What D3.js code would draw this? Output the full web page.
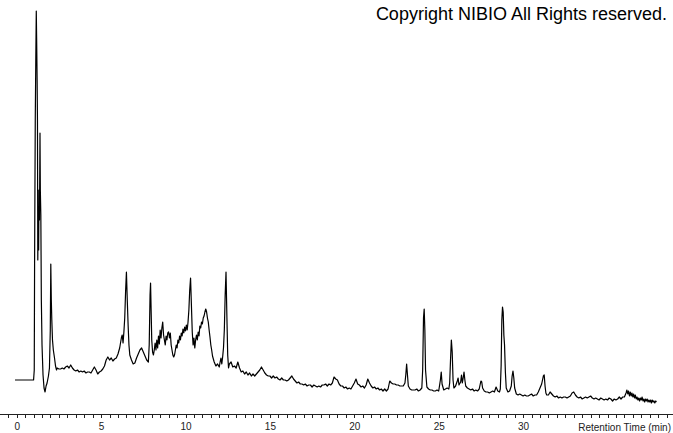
<!DOCTYPE html>
<html>
<head>
<meta charset="utf-8">
<script src="https://cdn.jsdelivr.net/npm/d3@7"></script>
<style>
  html, body { margin: 0; padding: 0; background: #fff; }
  svg { display: block; }
</style>
</head>
<body>
<svg id="chart" width="673" height="433"></svg>
<script>
// ---- data: [retention time (min), detector signal] ----
const traceSolventFront = [
  [-0.10,20],[1.00,20],[1.04,30],[1.06,138],[1.10,280],[1.13,338],[1.16,389],[1.18,363],[1.21,320],
  [1.23,280],[1.25,140],[1.27,185],[1.30,150],[1.32,210],[1.35,180],[1.38,267],[1.40,210],[1.43,185],
  [1.46,100],[1.50,55],[1.56,25],[1.62,12],[1.68,8],[1.74,14],[1.80,17],[1.88,24],[1.94,32],[1.99,70],
  [2.02,136],[2.05,100],[2.08,80],[2.12,60],[2.17,50],[2.24,42],[2.30,34],[2.36,30]
];
const traceEarly = [
  [2.4,32],[2.5,31],[2.6,31],[2.7,32],[2.8,31],[2.9,33],[3.0,34],[3.1,32],[3.2,35],[3.3,32],[3.4,30],
  [3.5,29],[3.6,30],[3.7,28],[3.8,29],[3.9,28],[4.0,29],[4.1,27],[4.2,28],[4.3,28],[4.4,27],[4.5,30],
  [4.6,33],[4.7,30],[4.8,26],[4.9,28],[5.0,29],[5.1,31],[5.2,34],[5.3,40],[5.4,43],[5.5,40],[5.6,42],
  [5.7,39],[5.8,41],[5.9,42],[6.0,46],[6.1,52],[6.2,62],[6.25,65],[6.3,57],[6.35,68],[6.4,82],[6.45,108],
  [6.5,128],[6.55,100],[6.6,75],[6.65,55],[6.7,45],[6.8,40],[6.9,36],[7.0,37],[7.1,42],[7.2,46],[7.3,50],
  [7.4,52],[7.5,48],[7.6,44],[7.7,40],[7.8,38],[7.85,55],[7.9,105],[7.93,117],[7.97,85],[8.0,60],[8.05,48],
  [8.1,45],[8.15,50],[8.2,57],[8.25,50],[8.3,60],[8.35,52],[8.4,64],[8.45,56],[8.5,70],[8.55,62],[8.6,72],
  [8.65,78],[8.7,65],[8.75,60],[8.8,55],[8.85,64],[8.9,60],[8.95,67],[9.0,68],[9.05,62],[9.1,67],[9.15,55],
  [9.2,50],[9.25,45],[9.3,43],[9.35,45],[9.4,50],[9.45,55],[9.5,52],[9.55,60],[9.6,57],[9.65,64],[9.7,60],
  [9.75,67],[9.8,64],[9.85,71],[9.9,67],[9.95,73],[10.0,69],[10.05,75],[10.1,70],[10.15,78],[10.2,90],
  [10.25,110],[10.3,122],[10.35,95],[10.4,68],[10.45,55],[10.5,62],[10.55,52],[10.6,60],[10.65,65],
  [10.7,60],[10.75,68],[10.8,64],[10.85,74],[10.9,72],[10.95,78],[11.0,76],[11.05,82],[11.1,84],[11.15,88],
  [11.2,91],[11.25,88],[11.3,82],[11.35,78],[11.4,70],[11.45,63],[11.5,55],[11.55,50],[11.6,44],[11.7,38],
  [11.8,34],[11.9,36],[12.0,33],[12.05,38],[12.1,42],[12.15,36],[12.2,43],[12.25,52],[12.3,70],[12.35,105],
  [12.4,128],[12.45,85],[12.5,45],[12.55,32],[12.6,36],[12.7,38],[12.8,33],[12.9,34],[13.0,32],[13.1,38],
  [13.2,32]
];
const traceMiddle = [
  [13.3,28],[13.4,29],[13.5,26],[13.6,28],[13.7,25],[13.8,27],[13.9,24],[14.0,26],[14.1,24],[14.2,26],
  [14.3,28],[14.4,30],[14.5,33],[14.6,30],[14.7,27],[14.8,25],[14.9,24],[15.0,24],[15.1,22],[15.2,24],
  [15.3,22],[15.4,23],[15.5,21],[15.6,20],[15.7,22],[15.8,20],[15.9,20],[16.0,19],[16.1,20],[16.2,22],
  [16.3,24],[16.4,21],[16.5,19],[16.6,17],[16.7,18],[16.8,16],[16.9,16],[17.0,15],[17.1,16],[17.2,14],
  [17.3,15],[17.4,15],[17.5,13],[17.6,15],[17.7,14],[17.8,13],[17.9,14],[18.0,13],[18.1,15],[18.2,15],
  [18.3,16],[18.4,14],[18.5,16],[18.6,15],[18.7,17],[18.8,23],[18.9,21],[19.0,20],[19.1,16],[19.2,14],
  [19.3,14],[19.4,12],[19.5,13],[19.6,11],[19.7,12],[19.8,11],[19.9,14],[20.0,17],[20.1,21],[20.2,16],
  [20.3,15],[20.4,13],[20.5,14],[20.6,12],[20.7,15],[20.8,21],[20.9,17],[21.0,14],[21.1,12],[21.2,13],
  [21.3,11],[21.4,12],[21.5,10],[21.6,11],[21.7,9],[21.8,11],[21.9,9],[22.0,11],[22.1,19],[22.2,17],
  [22.3,16],[22.4,16],[22.5,15],[22.6,15],[22.7,14],[22.8,14],[22.9,14],[23.0,17],[23.05,25],[23.1,36],
  [23.15,25],[23.2,14],[23.3,11],[23.4,10],[23.5,10],[23.6,10],[23.7,11],[23.8,9],[23.9,10],[24.0,12],
  [24.05,30],[24.1,82],[24.14,91],[24.18,70],[24.22,30],[24.3,13],[24.4,11],[24.5,10],[24.6,10],[24.7,9],
  [24.8,9],[24.9,10],[25.0,9],[25.1,20],[25.15,28],[25.2,16],[25.3,10],[25.4,11],[25.5,12],[25.6,11],
  [25.65,17],[25.7,40],[25.75,60],[25.8,48],[25.85,20],[25.9,12],[26.0,14],[26.1,19],[26.15,22],[26.2,15],
  [26.3,18],[26.35,25],[26.4,17],[26.45,22],[26.5,28],[26.55,20],[26.6,14],[26.7,12],[26.8,11],[26.9,10]
];
const traceLate = [
  [27.0,11],[27.1,9],[27.2,10],[27.3,9],[27.4,11],[27.5,19],[27.55,18],[27.6,12],[27.7,9],[27.8,8],
  [27.9,8],[28.0,7],[28.1,8],[28.2,9],[28.3,8],[28.4,13],[28.5,9],[28.6,8],[28.65,11],[28.7,35],[28.74,80],
  [28.78,93],[28.82,88],[28.86,65],[28.9,55],[28.95,28],[29.0,12],[29.1,8],[29.2,9],[29.3,14],[29.35,24],
  [29.4,29],[29.45,22],[29.5,12],[29.6,6],[29.7,5],[29.8,6],[29.9,5],[30.0,4],[30.1,5],[30.2,4],[30.3,4],
  [30.4,5],[30.5,6],[30.6,4],[30.7,5],[30.8,5],[30.9,8],[31.0,12],[31.1,16],[31.15,20],[31.2,24],[31.25,25],
  [31.3,14],[31.35,7],[31.4,5],[31.5,5],[31.6,8],[31.7,6],[31.8,4],[31.9,3],[32.0,4],[32.1,2],[32.2,3],
  [32.3,2],[32.4,3],[32.5,3],[32.6,2],[32.7,3],[32.8,4],[32.9,7],[33.0,8],[33.1,5],[33.2,3],[33.3,2],
  [33.4,3],[33.5,1],[33.6,2],[33.7,3],[33.8,2],[33.9,3],[34.0,4],[34.1,2],[34.2,1],[34.3,2],[34.4,1],
  [34.5,0],[34.6,2],[34.7,1],[34.8,0],[34.9,1],[35.0,0],[35.1,2],[35.2,1],[35.3,-1],[35.4,1],[35.5,0],
  [35.6,1],[35.7,3],[35.8,1],[35.9,3],[36.0,3],[36.05,5],[36.1,7],[36.15,10],[36.2,6],[36.25,9],[36.3,4],
  [36.35,8],[36.4,4],[36.45,7],[36.5,3],[36.55,6],[36.6,2],[36.65,5],[36.7,1],[36.75,3],[36.8,0],[36.85,2],
  [36.9,-1],[36.95,2],[37.0,0],[37.05,3],[37.1,-1],[37.15,1],[37.2,-2],[37.25,1],[37.3,-1],[37.35,1],
  [37.4,-2],[37.45,0],[37.5,-2],[37.55,0],[37.6,-3],[37.65,0],[37.7,-2],[37.75,-1],[37.8,-3],[37.85,-1],
  [37.9,-2]
];
const tickLabels = [0, 5, 10, 15, 20, 25, 30];
const axisTitle = "Retention Time (min)";
const copyrightText = "Copyright NIBIO All Rights reserved.";

// ---- drawing ----
const W = 673, H = 433;
const svg = d3.select("#chart");
const x = d3.scaleLinear().domain([0, 30]).range([16.7, 523.1]);
const y = d3.scaleLinear().domain([0, 390]).range([400, 10]);

const trace = [].concat(traceSolventFront, traceEarly, traceMiddle, traceLate);

svg.append("path")
  .datum(trace)
  .attr("fill", "none")
  .attr("stroke", "#000")
  .attr("stroke-width", 1.2)
  .attr("stroke-linejoin", "round")
  .attr("d", d3.line().x(d => x(d[0])).y(d => y(d[1])));

// axis
const axisY = 414;
const minorTicks = d3.range(-0.5, 38.75, 0.5);
const gAxis = svg.append("g").attr("transform", `translate(0,${axisY})`);
gAxis.call(d3.axisBottom(x).tickValues(minorTicks).tickSize(4).tickFormat(""))
  .call(g => g.select(".domain").remove())
  .call(g => g.selectAll(".tick line").attr("stroke", "#222").attr("shape-rendering", "crispEdges"));
gAxis.append("line")
  .attr("x1", 0).attr("x2", W).attr("y1", 0.5).attr("y2", 0.5)
  .attr("stroke", "#222").attr("shape-rendering", "crispEdges");

const gLabels = svg.append("g").attr("transform", `translate(0,${axisY})`);
gLabels.call(d3.axisBottom(x).tickValues(tickLabels).tickSize(0).tickPadding(9).tickFormat(d3.format("d")))
  .call(g => g.select(".domain").remove())
  .call(g => g.selectAll(".tick text")
    .attr("fill", "#222")
    .attr("font-family", "'Liberation Sans', Arial, sans-serif")
    .attr("font-size", 10));

svg.append("text")
  .attr("x", 671).attr("y", 430.5)
  .attr("text-anchor", "end")
  .attr("font-family", "'Liberation Sans', Arial, sans-serif")
  .attr("font-size", 10)
  .attr("fill", "#222")
  .text(axisTitle);

svg.append("text")
  .attr("x", 667).attr("y", 19.5)
  .attr("text-anchor", "end")
  .attr("font-family", "'Liberation Sans', Arial, sans-serif")
  .attr("font-size", 18)
  .attr("fill", "#000")
  .text(copyrightText);
</script>
</body>
</html>
